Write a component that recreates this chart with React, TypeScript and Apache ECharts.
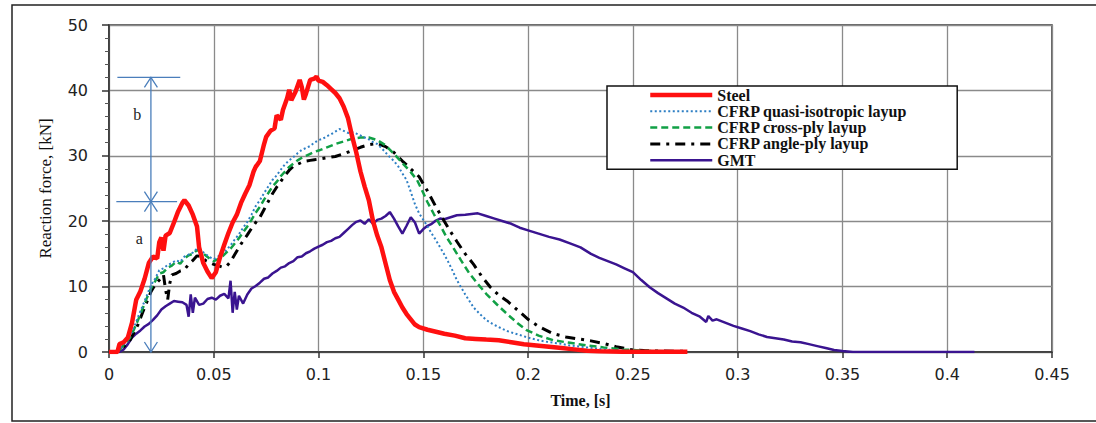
import React, { useEffect, useRef } from "react";
import * as echarts from "echarts";

// ---- Data (time [s], reaction force [kN]) ----
const SERIES_NAMES = [
  "Steel",
  "CFRP quasi-isotropic layup",
  "CFRP cross-ply layup",
  "CFRP angle-ply layup",
  "GMT",
];

const steel: number[][] = [
  [0, 0], [0.004, 0], [0.005, 1.2], [0.007, 1.5], [0.009, 2.2], [0.011, 4.5], [0.013, 8.0], [0.015, 9.3],
  [0.017, 11.2], [0.019, 13.6], [0.021, 14.6], [0.023, 14.3], [0.024, 16.8], [0.025, 17.5], [0.026, 15.5],
  [0.027, 17.8], [0.029, 18.2], [0.031, 19.8], [0.033, 21.5], [0.035, 22.8], [0.036, 23.2], [0.038, 22.4],
  [0.040, 21.0], [0.042, 19.2], [0.043, 16.0], [0.045, 13.6], [0.047, 12.3], [0.049, 11.3], [0.051, 12.2],
  [0.053, 14.5], [0.055, 16.4], [0.057, 18.2], [0.059, 19.8], [0.061, 21.0], [0.063, 22.8], [0.065, 24.2],
  [0.067, 25.5], [0.069, 27.6], [0.070, 28.3], [0.072, 29.2], [0.074, 31.8], [0.075, 32.9], [0.077, 33.8],
  [0.079, 34.2], [0.080, 36.2], [0.082, 35.5], [0.083, 37.0], [0.085, 38.8], [0.086, 40.1], [0.087, 38.5],
  [0.089, 39.8], [0.091, 41.6], [0.092, 40.5], [0.093, 38.6], [0.094, 39.5], [0.096, 41.6], [0.098, 41.8],
  [0.099, 42.1], [0.100, 41.5], [0.102, 41.3], [0.104, 40.8], [0.106, 40.2], [0.108, 39.6], [0.110, 38.8],
  [0.112, 37.5], [0.114, 35.8], [0.116, 33.0], [0.118, 30.5], [0.120, 27.6], [0.122, 25.3], [0.124, 23.2],
  [0.126, 20.0], [0.128, 17.8], [0.130, 16.0], [0.132, 13.5], [0.134, 11.0], [0.136, 9.2], [0.138, 8.0],
  [0.140, 6.8], [0.142, 5.8], [0.144, 5.0], [0.146, 4.2], [0.148, 3.8], [0.152, 3.4], [0.156, 3.1],
  [0.160, 2.8], [0.165, 2.5], [0.170, 2.1], [0.175, 2.0], [0.180, 1.9], [0.186, 1.8], [0.192, 1.5],
  [0.198, 1.2], [0.204, 1.0], [0.210, 0.8], [0.216, 0.6], [0.222, 0.4], [0.228, 0.2], [0.234, 0.1],
  [0.245, 0.05], [0.260, 0.05], [0.276, 0.05],
];

const quasiIso: number[][] = [
  [0, 0], [0.004, 0], [0.006, 0.8], [0.008, 1.5], [0.010, 2.4], [0.012, 3.8], [0.014, 5.5], [0.016, 7.0],
  [0.018, 8.6], [0.020, 10.2], [0.022, 11.2], [0.024, 12.5], [0.026, 12.8], [0.028, 13.3], [0.030, 13.6],
  [0.032, 14.0], [0.034, 13.8], [0.036, 14.6], [0.038, 14.9], [0.040, 15.2], [0.042, 15.8], [0.044, 15.5],
  [0.046, 15.0], [0.048, 14.5], [0.050, 14.2], [0.052, 14.6], [0.054, 15.0], [0.056, 15.6], [0.058, 16.3],
  [0.060, 17.2], [0.062, 18.0], [0.064, 19.0], [0.066, 19.9], [0.068, 21.0], [0.070, 22.3], [0.072, 23.2],
  [0.074, 24.3], [0.076, 25.3], [0.078, 26.3], [0.080, 27.0], [0.082, 27.9], [0.084, 28.7], [0.086, 29.3],
  [0.088, 29.8], [0.090, 30.4], [0.092, 30.9], [0.094, 31.2], [0.096, 31.5], [0.098, 32.0], [0.100, 32.4],
  [0.102, 32.6], [0.104, 33.0], [0.106, 33.3], [0.108, 33.7], [0.110, 34.1], [0.112, 33.8], [0.114, 33.5],
  [0.116, 33.6], [0.118, 33.4], [0.120, 33.1], [0.122, 32.8], [0.124, 32.5], [0.126, 32.1], [0.128, 31.8],
  [0.130, 31.2], [0.132, 30.5], [0.134, 29.8], [0.136, 29.2], [0.138, 28.4], [0.140, 27.3], [0.142, 26.3],
  [0.144, 24.5], [0.146, 22.6], [0.148, 21.2], [0.150, 20.2], [0.152, 19.2], [0.154, 18.1], [0.156, 17.1],
  [0.158, 16.0], [0.160, 14.9], [0.162, 13.7], [0.164, 12.4], [0.166, 11.0], [0.168, 9.9], [0.170, 8.8],
  [0.172, 7.8], [0.174, 6.8], [0.177, 5.8], [0.180, 4.9], [0.183, 4.3], [0.186, 3.8], [0.190, 3.2],
  [0.195, 2.7], [0.200, 2.2], [0.205, 1.8], [0.210, 1.5], [0.215, 1.3], [0.220, 1.0], [0.228, 0.7],
  [0.236, 0.4], [0.245, 0.2], [0.255, 0.1], [0.265, 0.05],
];

const crossPly: number[][] = [
  [0, 0], [0.004, 0], [0.006, 0.7], [0.008, 1.4], [0.010, 2.2], [0.012, 3.5], [0.014, 5.0], [0.016, 6.6],
  [0.018, 8.2], [0.020, 9.7], [0.022, 10.8], [0.024, 12.0], [0.026, 12.2], [0.028, 12.9], [0.030, 13.2],
  [0.032, 13.8], [0.034, 13.5], [0.036, 14.3], [0.038, 14.8], [0.040, 15.0], [0.042, 15.6], [0.044, 15.3],
  [0.046, 14.8], [0.048, 14.3], [0.050, 13.9], [0.052, 14.2], [0.054, 14.6], [0.056, 15.2], [0.058, 15.8],
  [0.060, 16.6], [0.062, 17.4], [0.064, 18.3], [0.066, 19.2], [0.068, 20.2], [0.070, 21.3], [0.072, 22.2],
  [0.074, 23.3], [0.076, 24.3], [0.078, 25.3], [0.080, 26.0], [0.082, 26.9], [0.084, 27.6], [0.086, 28.3],
  [0.088, 28.8], [0.090, 29.3], [0.092, 29.7], [0.094, 30.0], [0.096, 30.3], [0.098, 30.6], [0.100, 30.8],
  [0.104, 31.3], [0.108, 31.8], [0.112, 32.2], [0.116, 32.6], [0.120, 32.8], [0.124, 32.8], [0.128, 32.4],
  [0.132, 31.6], [0.136, 30.3], [0.140, 28.9], [0.144, 27.5], [0.147, 26.3], [0.150, 24.3], [0.152, 22.9],
  [0.155, 21.1], [0.158, 19.4], [0.161, 17.6], [0.164, 16.1], [0.168, 14.0], [0.172, 12.0], [0.176, 10.4],
  [0.180, 8.9], [0.185, 7.3], [0.190, 5.8], [0.195, 4.4], [0.199, 3.4], [0.205, 2.5], [0.212, 1.8],
  [0.220, 1.4], [0.228, 1.0], [0.236, 0.7], [0.245, 0.4], [0.255, 0.2], [0.266, 0.1],
];

const anglePly: number[][] = [
  [0, 0], [0.004, 0], [0.006, 0.5], [0.008, 1.1], [0.010, 1.8], [0.012, 3.0], [0.014, 4.3], [0.016, 6.0],
  [0.018, 7.6], [0.020, 9.2], [0.022, 10.3], [0.024, 11.0], [0.026, 11.8], [0.027, 9.5], [0.028, 8.0],
  [0.029, 10.5], [0.030, 11.8], [0.032, 12.0], [0.034, 12.4], [0.036, 12.6], [0.038, 13.4], [0.040, 14.0],
  [0.042, 14.7], [0.044, 14.6], [0.046, 14.0], [0.048, 13.7], [0.050, 13.4], [0.052, 13.2], [0.054, 13.0],
  [0.056, 13.1], [0.058, 13.8], [0.060, 14.9], [0.062, 16.0], [0.064, 17.0], [0.066, 17.9], [0.068, 18.9],
  [0.070, 19.8], [0.072, 20.6], [0.074, 21.8], [0.076, 23.0], [0.078, 24.2], [0.080, 25.2], [0.082, 26.1],
  [0.084, 27.0], [0.086, 27.8], [0.088, 28.4], [0.090, 28.7], [0.092, 29.0], [0.094, 29.2], [0.096, 29.3],
  [0.098, 29.4], [0.100, 29.5], [0.104, 29.7], [0.108, 29.9], [0.112, 30.3], [0.116, 30.8], [0.120, 31.3],
  [0.124, 31.7], [0.128, 31.9], [0.132, 31.4], [0.136, 30.5], [0.140, 29.2], [0.144, 28.0], [0.148, 26.8],
  [0.152, 24.6], [0.156, 22.2], [0.160, 20.0], [0.163, 18.4], [0.166, 16.9], [0.170, 15.0], [0.174, 13.4],
  [0.178, 11.5], [0.182, 9.9], [0.186, 8.7], [0.190, 7.8], [0.195, 6.4], [0.200, 5.0], [0.205, 3.9],
  [0.212, 2.8], [0.218, 2.3], [0.224, 2.0], [0.230, 1.7], [0.236, 1.3], [0.242, 0.8], [0.250, 0.3],
  [0.260, 0.15], [0.275, 0.1],
];

const gmt: number[][] = [
  [0, 0], [0.005, 0], [0.007, 0.4], [0.009, 1.2], [0.011, 2.2], [0.013, 2.8], [0.015, 3.3], [0.017, 3.9],
  [0.019, 4.3], [0.021, 4.9], [0.023, 5.6], [0.025, 6.5], [0.027, 7.0], [0.029, 7.4], [0.031, 7.8],
  [0.033, 7.7], [0.035, 7.6], [0.037, 7.2], [0.038, 5.4], [0.039, 8.8], [0.040, 6.0], [0.041, 8.3],
  [0.043, 7.2], [0.045, 7.4], [0.047, 8.1], [0.049, 8.3], [0.051, 8.0], [0.053, 8.6], [0.055, 8.9],
  [0.057, 8.2], [0.058, 10.9], [0.059, 6.0], [0.060, 9.2], [0.061, 6.5], [0.062, 8.6], [0.064, 7.4],
  [0.066, 8.8], [0.068, 9.7], [0.070, 10.1], [0.072, 10.6], [0.074, 11.2], [0.076, 11.4], [0.078, 12.0],
  [0.080, 12.4], [0.082, 12.9], [0.084, 13.1], [0.086, 13.6], [0.088, 13.9], [0.090, 14.5], [0.092, 14.6],
  [0.094, 15.1], [0.096, 15.4], [0.098, 15.8], [0.100, 16.1], [0.102, 16.4], [0.104, 16.8], [0.106, 17.0],
  [0.108, 17.4], [0.110, 17.6], [0.112, 18.2], [0.114, 18.8], [0.116, 19.4], [0.118, 19.9], [0.120, 20.1],
  [0.122, 19.6], [0.124, 20.3], [0.126, 19.6], [0.128, 20.2], [0.130, 20.4], [0.132, 20.8], [0.134, 21.4],
  [0.136, 20.4], [0.138, 19.2], [0.140, 18.1], [0.142, 19.3], [0.144, 20.6], [0.146, 19.8], [0.148, 18.1],
  [0.150, 18.8], [0.152, 19.3], [0.154, 19.6], [0.156, 20.1], [0.158, 20.4], [0.160, 20.3], [0.163, 20.6],
  [0.166, 20.9], [0.170, 21.0], [0.173, 21.1], [0.176, 21.2], [0.180, 20.8], [0.184, 20.4], [0.188, 20.0],
  [0.192, 19.6], [0.196, 19.0], [0.200, 18.6], [0.205, 18.1], [0.210, 17.6], [0.215, 17.2], [0.220, 16.6],
  [0.225, 16.0], [0.230, 15.0], [0.234, 14.4], [0.238, 13.9], [0.242, 13.4], [0.246, 12.8], [0.250, 12.2],
  [0.254, 11.0], [0.258, 9.9], [0.262, 9.0], [0.266, 8.2], [0.270, 7.4], [0.274, 6.8], [0.278, 6.0],
  [0.282, 5.4], [0.285, 4.6], [0.286, 5.5], [0.288, 4.8], [0.290, 5.0], [0.294, 4.5], [0.298, 4.0],
  [0.302, 3.6], [0.306, 3.2], [0.310, 2.7], [0.314, 2.3], [0.318, 2.1], [0.322, 1.9], [0.326, 1.6],
  [0.330, 1.5], [0.334, 1.2], [0.338, 0.9], [0.342, 0.6], [0.346, 0.3], [0.350, 0.15], [0.355, 0],
  [0.413, 0],
];

// Annotation (a / b force levels at time ANNOT_X)
const ANNOT_X = 0.02;
const A_LEVEL = 23;
const B_LEVEL = 42;
const ANNOT_LABELS = ["a", "b"];

const X_MAX = 0.45;
const X_STEP = 0.05;
const Y_MAX = 50;
const Y_STEP = 10;

export default function App() {
  const ref = useRef<HTMLDivElement>(null);

  useEffect(() => {
    if (!ref.current) return;
    const chart = echarts.init(ref.current, null, { renderer: "svg" });
    const serif = "Liberation Serif, Times New Roman, serif";
    const sans = "DejaVu Sans, Verdana, sans-serif";

    const mk = (name: string, data: number[][], color: string, width: number, type: any, z: number) => ({
      name,
      type: "line",
      data,
      symbol: "none",
      showSymbol: false,
      z,
      lineStyle: { color, width, type, cap: "butt" },
      itemStyle: { color },
    });

    chart.setOption({
      animation: false,
      backgroundColor: "#ffffff",
      grid: {
        left: 109,
        right: 44,
        top: 25,
        bottom: 71,
        show: true,
        borderColor: "#333",
        borderWidth: 1.5,
      },
      legend: {
        orient: "vertical",
        left: 607,
        top: 86,
        backgroundColor: "#fff",
        borderColor: "#111",
        borderWidth: 1.5,
        padding: [1, 50, 1, 41],
        itemWidth: 62,
        itemHeight: 12,
        itemGap: 0.3,
        itemStyle: { opacity: 0 },
        lineStyle: { width: "inherit" },
        textStyle: { fontFamily: serif, fontSize: 16, fontWeight: "bold", color: "#111", lineHeight: 15 },
        data: SERIES_NAMES,
        selectedMode: false,
      },
      xAxis: {
        type: "value",
        min: 0,
        max: X_MAX,
        interval: X_STEP,
        axisLine: { show: true, lineStyle: { color: "#333", width: 1.5 } },
        axisTick: { show: true, length: 6, inside: false, lineStyle: { color: "#333", width: 1.5 } },
        axisLabel: {
          margin: 14,
          fontFamily: sans,
          fontSize: 16,
          color: "#222",
          formatter: (v: number) => String(+v.toFixed(2)),
        },
        splitLine: { show: true, lineStyle: { color: "#8a8a8a", width: 1.3 } },
        name: "Time, [s]",
        nameLocation: "middle",
        nameGap: 40,
        nameTextStyle: { fontFamily: serif, fontSize: 16, fontWeight: "bold", color: "#111" },
      },
      yAxis: {
        type: "value",
        min: 0,
        max: Y_MAX,
        interval: Y_STEP,
        axisLine: { show: true, lineStyle: { color: "#333", width: 1.5 } },
        axisTick: { show: true, length: 7, inside: false, lineStyle: { color: "#333", width: 1.5 } },
        minorTick: { show: true, splitNumber: 5, length: 4, lineStyle: { color: "#555", width: 1 } },
        axisLabel: { margin: 21, fontFamily: sans, fontSize: 16, color: "#222" },
        splitLine: { show: true, lineStyle: { color: "#8a8a8a", width: 1.3 } },
        name: "Reaction force, [kN]",
        nameLocation: "middle",
        nameGap: 55,
        nameTextStyle: { fontFamily: serif, fontSize: 17, color: "#111" },
      },
      series: [
        mk(SERIES_NAMES[4], gmt, "#3a1490", 2.5, "solid", 2),
        mk(SERIES_NAMES[3], anglePly, "#000000", 3, [10, 6, 3, 6], 3),
        mk(SERIES_NAMES[2], crossPly, "#11a045", 2.5, [7, 4], 4),
        mk(SERIES_NAMES[1], quasiIso, "#2e7fc4", 2, [2, 2.5], 5),
        mk(SERIES_NAMES[0], steel, "#ff1010", 4.5, "solid", 6),
      ],
    });

    const px = (x: number, y: number) => chart.convertToPixel({ gridIndex: 0 }, [x, y]) as number[];
    const [ax, yB] = px(ANNOT_X, B_LEVEL);
    const [, yA] = px(ANNOT_X, A_LEVEL);
    const [, y0] = px(ANNOT_X, 0);
    const [bx1] = px(0.004, B_LEVEL);
    const [bx2] = px(0.034, B_LEVEL);
    const [ax1] = px(0.0035, A_LEVEL);
    const [ax2] = px(0.0325, A_LEVEL);
    const [lbx, lby] = px(0.0135, 36.3);
    const [lax, lay] = px(0.0145, 17.4);
    const blue = "#4a7ebb";
    const ls = { stroke: blue, lineWidth: 1.3, fill: null };
    const dx = 6.5;
    const dy = 10;
    const head = (tipY: number, dir: number) => ({
      type: "polyline",
      z: 100,
      shape: { points: [[ax - dx, tipY + dir * dy], [ax, tipY], [ax + dx, tipY + dir * dy]] },
      style: ls,
    });

    chart.setOption({
      graphic: [
        {
          type: "rect",
          z: 0,
          silent: true,
          shape: { x: 12, y: 5, width: 1100, height: 416 },
          style: { fill: null, stroke: "#222", lineWidth: 1.5 },
        },
        { type: "line", z: 100, shape: { x1: ax, y1: yB, x2: ax, y2: y0 }, style: ls },
        { type: "line", z: 100, shape: { x1: bx1, y1: yB, x2: bx2, y2: yB }, style: ls },
        { type: "line", z: 100, shape: { x1: ax1, y1: yA, x2: ax2, y2: yA }, style: ls },
        head(yB, 1),
        head(yA, -1),
        head(yA, 1),
        head(y0, -1),
        {
          type: "text",
          z: 100,
          x: lbx,
          y: lby,
          style: { text: ANNOT_LABELS[1], fontFamily: serif, fontSize: 16, fill: "#222", align: "center", verticalAlign: "middle" },
        },
        {
          type: "text",
          z: 100,
          x: lax,
          y: lay,
          style: { text: ANNOT_LABELS[0], fontFamily: serif, fontSize: 16, fill: "#222", align: "center", verticalAlign: "middle" },
        },
      ],
    });

    return () => chart.dispose();
  }, []);

  return (
    <div
      ref={ref}
      style={{ position: "fixed", left: 0, top: 0, width: 1096, height: 423, background: "#fff" }}
    />
  );
}
